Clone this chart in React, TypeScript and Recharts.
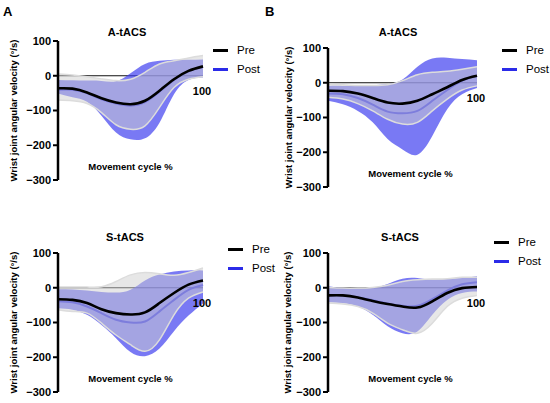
import React from 'react';
import { ComposedChart, Area, Line, XAxis, YAxis, ReferenceLine } from 'recharts';

// movement cycle samples (%)
const CYCLE = [0, 10, 20, 30, 40, 50, 60, 70, 80, 90, 100];
const Y_TICKS = [100, 0, -100, -200, -300];

// A – A-tACS
const A_ATACS_PRE = [-36, -37, -48, -65, -77, -82, -72, -43, -10, 14, 27];
const A_ATACS_PRE_HI = [5, 2, -3, -9, -14, -10, 10, 34, 43, 51, 58];
const A_ATACS_PRE_LO = [-70, -72, -80, -106, -141, -154, -144, -91, -34, -10, -3];
const A_ATACS_POST = [-40, -40, -50, -68, -80, -86, -76, -46, -12, 13, 25];
const A_ATACS_POST_HI = [-12, -13, -14, -15, -16, 7, 34, 43, 46, 46, 47];
const A_ATACS_POST_LO = [-51, -62, -75, -115, -163, -183, -180, -135, -53, -12, -5];

// B – A-tACS
const B_ATACS_PRE = [-23, -24, -31, -44, -57, -60, -52, -33, -13, 8, 20];
const B_ATACS_PRE_HI = [-4, -6, -8, -8, -6, 6, 23, 30, 33, 39, 46];
const B_ATACS_PRE_LO = [-42, -47, -60, -81, -105, -119, -114, -81, -47, -21, -9];
const B_ATACS_POST = [-31, -33, -44, -63, -83, -88, -81, -52, -21, 6, 20];
const B_ATACS_POST_HI = [-9, -9, -9, -7, -4, 9, 46, 70, 72, 68, 65];
const B_ATACS_POST_LO = [-52, -62, -81, -114, -162, -192, -207, -153, -76, -33, -15];

// A – S-tACS
const A_STACS_PRE = [-33, -35, -44, -62, -73, -77, -71, -44, -15, 9, 21];
const A_STACS_PRE_HI = [2, 2, 2, 3, 18, 37, 44, 40, 36, 44, 57];
const A_STACS_PRE_LO = [-63, -68, -73, -102, -136, -164, -183, -150, -78, -30, -12];
const A_STACS_POST = [-39, -42, -54, -73, -92, -100, -97, -68, -35, -6, 8];
const A_STACS_POST_HI = [-4, -5, -8, -12, -14, -6, 21, 38, 47, 50, 50];
const A_STACS_POST_LO = [-59, -63, -78, -107, -145, -185, -197, -175, -125, -80, -45];

// B – S-tACS
const B_STACS_PRE = [-22, -22, -28, -38, -47, -54, -57, -39, -15, -1, 2];
const B_STACS_PRE_HI = [1, -1, -1, 1, 7, 18, 23, 25, 26, 30, 30];
const B_STACS_PRE_LO = [-44, -47, -54, -73, -102, -121, -131, -102, -54, -30, -22];
const B_STACS_POST = [-22, -22, -27, -36, -45, -52, -52, -33, -8, 10, 16];
const B_STACS_POST_HI = [4, -1, -3, -1, 11, 26, 28, 23, 25, 28, 33];
const B_STACS_POST_LO = [-41, -44, -54, -78, -111, -131, -126, -78, -35, -15, -11];

const FONT = '"Liberation Sans", Arial, Helvetica, sans-serif';
const POST_BLUE = '#4040f0';
const POST_LINE = '#2b2be8';
const CURVE = 'natural';

function buildRows(pre, preLo, preHi, post, postLo, postHi) {
  return CYCLE.map((x, i) => ({
    x,
    pre: pre[i],
    post: post[i],
    preBand: [preLo[i], preHi[i]],
    postBand: [postLo[i], postHi[i]],
  }));
}

const fmtTick = (v: number) => (v < 0 ? `\u2212${-v}` : `${v}`);

function Key({ x, y, color, text }) {
  return (
    <div style={{ position: 'absolute', left: x, top: y - 8, height: 16, display: 'flex', alignItems: 'center', font: `11.5px ${FONT}`, color: '#000' }}>
      <span style={{ display: 'inline-block', width: 15, height: 3, background: color, marginRight: 9 }} />
      {text}
    </div>
  );
}

const PLOT_H = 139;

function Panel({ rows, title, left, top, plotW, titleX, titleY, legendX, legendY, labelOffset, captionDx }) {
  const m = { top: 6, right: 16, bottom: 6, left: 0 };
  return (
    <>
      <div style={{ position: 'absolute', left: titleX - 50, width: 100, top: titleY - 7, lineHeight: '14px', textAlign: 'center', font: `bold 11px ${FONT}` }}>
        {title}
      </div>
      <div style={{ position: 'absolute', left: left - 58, top: top - m.top }}>
        <ComposedChart width={58 + plotW + m.right} height={m.top + PLOT_H + m.bottom} data={rows} margin={m}>
          <XAxis type="number" dataKey="x" domain={[0, 100]} hide />
          <YAxis
            width={58}
            domain={[-300, 100]}
            ticks={Y_TICKS}
            interval={0}
            tickFormatter={fmtTick}
            tick={{ fill: '#000', fontSize: 11, fontWeight: 700, fontFamily: FONT }}
            axisLine={{ stroke: '#000', strokeWidth: 2.5 }}
            tickLine={{ stroke: '#000', strokeWidth: 2 }}
            tickSize={5}
            label={{
              value: 'Wrist joint angular velocity (°/s)',
              angle: -90,
              position: 'insideLeft',
              offset: labelOffset,
              style: { textAnchor: 'middle', fontSize: 9.5, fontWeight: 700, fill: '#000', fontFamily: FONT },
            }}
          />
          <ReferenceLine y={0} stroke="#111" strokeWidth={1.2} zIndex={50} />
          <Area dataKey="postBand" type={CURVE} fill={POST_BLUE} fillOpacity={0.7} stroke="none" isAnimationActive={false} zIndex={100} />
          <Line dataKey="post" type={CURVE} stroke={POST_LINE} strokeWidth={2} dot={false} activeDot={false} isAnimationActive={false} zIndex={150} />
          <Area dataKey="preBand" type={CURVE} fill="#d0d0d0" fillOpacity={0.5} stroke="#dcdcdc" strokeWidth={1.5} isAnimationActive={false} zIndex={200} />
          <Line dataKey="pre" type={CURVE} stroke="#000" strokeWidth={2.6} dot={false} activeDot={false} isAnimationActive={false} zIndex={400} />
          <ReferenceLine
            y={0}
            stroke="none"
            label={({ viewBox }) => (
              <text x={viewBox.x + viewBox.width - 1} y={viewBox.y + 15} textAnchor="middle" dominantBaseline="central" fontSize={11} fontWeight={700} fontFamily={FONT} fill="#000">
                100
              </text>
            )}
          />
          <ReferenceLine
            y={-262}
            stroke="none"
            label={({ viewBox }) => (
              <text x={viewBox.x + viewBox.width / 2 + captionDx} y={viewBox.y} textAnchor="middle" dominantBaseline="central" fontSize={9.5} fontWeight={700} fontFamily={FONT} fill="#000">
                Movement cycle %
              </text>
            )}
          />
        </ComposedChart>
      </div>
      <Key x={legendX} y={legendY} color="#000" text="Pre" />
      <Key x={legendX} y={legendY + 19} color={POST_LINE} text="Post" />
    </>
  );
}

export default function App() {
  const rowsA1 = buildRows(A_ATACS_PRE, A_ATACS_PRE_LO, A_ATACS_PRE_HI, A_ATACS_POST, A_ATACS_POST_LO, A_ATACS_POST_HI);
  const rowsB1 = buildRows(B_ATACS_PRE, B_ATACS_PRE_LO, B_ATACS_PRE_HI, B_ATACS_POST, B_ATACS_POST_LO, B_ATACS_POST_HI);
  const rowsA2 = buildRows(A_STACS_PRE, A_STACS_PRE_LO, A_STACS_PRE_HI, A_STACS_POST, A_STACS_POST_LO, A_STACS_POST_HI);
  const rowsB2 = buildRows(B_STACS_PRE, B_STACS_PRE_LO, B_STACS_PRE_HI, B_STACS_POST, B_STACS_POST_LO, B_STACS_POST_HI);

  return (
    <div style={{ position: 'absolute', left: 0, top: 0, width: 550, height: 403, background: '#fff', overflow: 'hidden', fontFamily: FONT }}>
      <div style={{ position: 'absolute', left: 3, top: 4, font: `bold 13px ${FONT}` }}>A</div>
      <div style={{ position: 'absolute', left: 265, top: 4, font: `bold 13px ${FONT}` }}>B</div>

      <Panel rows={rowsA1} title="A-tACS" left={58} top={41} plotW={145} titleX={127} titleY={33} legendX={213} legendY={50} labelOffset={14} captionDx={0} />
      <Panel rows={rowsB1} title="A-tACS" left={328} top={48} plotW={149} titleX={398} titleY={33} legendX={502} legendY={50} labelOffset={19} captionDx={8} />
      <Panel rows={rowsA2} title="S-tACS" left={58} top={253} plotW={145} titleX={125} titleY={238} legendX={228} legendY={249} labelOffset={14} captionDx={0} />
      <Panel rows={rowsB2} title="S-tACS" left={328} top={253} plotW={149} titleX={400} titleY={238} legendX={494} legendY={242} labelOffset={18} captionDx={8} />
    </div>
  );
}
